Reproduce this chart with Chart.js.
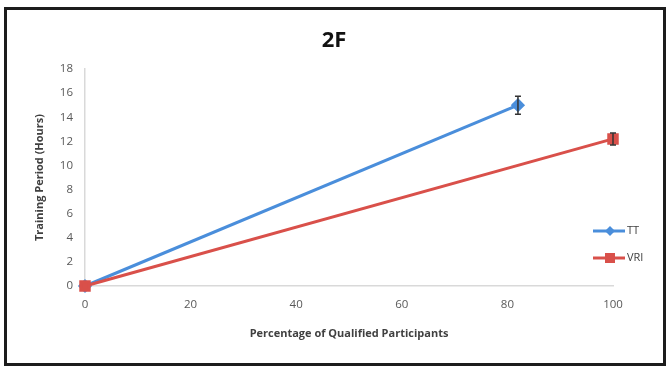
<!DOCTYPE html>
<html>
<head>
<meta charset="utf-8">
<script src="https://cdn.jsdelivr.net/npm/chart.js@4/dist/chart.umd.min.js"></script>
<style>
    body { margin: 0; background: #fff; }
    #frame {
        position: absolute; left: 4px; top: 7px;
        width: 662px; height: 359px;
        box-sizing: border-box;
        border: 3px solid #1c1c1c;
    }
    #chart { position: absolute; left: 0; top: 0; }
</style>
</head>
<body>
<div id="frame"></div>
<canvas id="chart" width="668" height="369"></canvas>
<script>
// Data
const seriesNames = ["TT", "VRI"];
const ttX = [0, 82];
const ttY = [0, 15.0];
const ttErr = [0, 0.75];
const vrX = [0, 100];
const vrY = [0, 12.2];
const vrErr = [0, 0.5];
const xTicks = [0, 20, 40, 60, 80, 100];
const yTicks = [0, 2, 4, 6, 8, 10, 12, 14, 16, 18];

const blue = "#4a8edb";
const red = "#d9504a";

const toPoints = (xs, ys) => xs.map((x, i) => ({ x: x, y: ys[i] }));

// error bars, drawn through the scales
const errorBars = {
    id: "errorBars",
    afterDatasetsDraw(chart) {
        const ctx = chart.ctx;
        const yScale = chart.scales.y;
        ctx.save();
        ctx.strokeStyle = "#333";
        ctx.lineWidth = 1.5;
        chart.data.datasets.forEach((ds, di) => {
            const meta = chart.getDatasetMeta(di);
            ds.errors.forEach((e, i) => {
                if (!e) return;
                const px = meta.data[i].x;
                const v = ds.data[i].y;
                const top = yScale.getPixelForValue(v + e);
                const bot = yScale.getPixelForValue(v - e);
                ctx.beginPath();
                ctx.moveTo(px, top); ctx.lineTo(px, bot);
                ctx.moveTo(px - 3, top); ctx.lineTo(px + 3, top);
                ctx.moveTo(px - 3, bot); ctx.lineTo(px + 3, bot);
                ctx.stroke();
            });
        });
        ctx.restore();
    }
};

// legend drawn in the lower right, over the plot like the original
const sideLegend = {
    id: "sideLegend",
    afterDraw(chart) {
        const ctx = chart.ctx;
        ctx.save();
        chart.data.datasets.forEach((ds, i) => {
            const y = 231 + i * 27;
            ctx.strokeStyle = ds.borderColor;
            ctx.lineWidth = 3;
            ctx.beginPath();
            ctx.moveTo(593, y); ctx.lineTo(625, y);
            ctx.stroke();
            ctx.fillStyle = ds.borderColor;
            ctx.beginPath();
            if (ds.pointStyle === "rectRot") {
                ctx.moveTo(610, y - 5); ctx.lineTo(615, y);
                ctx.lineTo(610, y + 5); ctx.lineTo(605, y);
            } else {
                ctx.rect(605, y - 5, 10, 10);
            }
            ctx.fill();
            ctx.fillStyle = "#404040";
            ctx.font = "11px 'Open Sans'";
            ctx.textBaseline = "middle";
            ctx.fillText(ds.label, 627, y);
        });
        ctx.restore();
    }
};

const ctx = document.getElementById("chart").getContext("2d");
new Chart(ctx, {
    type: "scatter",
    data: {
        datasets: [
            {
                label: seriesNames[0],
                data: toPoints(ttX, ttY),
                errors: ttErr,
                showLine: true,
                borderColor: blue,
                backgroundColor: blue,
                borderWidth: 3,
                pointStyle: "rectRot",
                pointRadius: 5,
                order: 1,
            },
            {
                label: seriesNames[1],
                data: toPoints(vrX, vrY),
                errors: vrErr,
                showLine: true,
                borderColor: red,
                backgroundColor: red,
                borderWidth: 3,
                pointStyle: "rect",
                pointRadius: 6,
                order: 0,
            },
        ],
    },
    options: {
        responsive: false,
        animation: false,
        clip: false,
        layout: { padding: { left: 0, right: 0, top: 0, bottom: 25 } },
        plugins: {
            legend: { display: false },
            tooltip: { enabled: false },
            title: {
                display: true,
                text: "2F",
                color: "#111",
                font: { family: "'Open Sans'", size: 22, weight: "bold" },
                padding: { top: 28, bottom: 14.6 },
            },
        },
        scales: {
            x: {
                type: "linear",
                min: 0,
                max: 100,
                afterFit: s => { s.height = 58; },
                afterBuildTicks: s => { s.ticks = xTicks.map(v => ({ value: v })); },
                grid: { display: false, drawTicks: false },
                border: { display: true, color: "#d9d9d9", width: 1.5 },
                ticks: { color: "#595959", padding: 12, font: { family: "'Open Sans'", size: 11.5 } },
                title: {
                    display: true,
                    text: "Percentage of Qualified Participants",
                    color: "#404040",
                    font: { family: "'Open Sans'", size: 11, weight: "bold" },
                    padding: { top: 0, bottom: 4 },
                },
            },
            y: {
                min: 0,
                max: 18,
                afterFit: s => { s.width = 85; },
                afterBuildTicks: s => { s.ticks = yTicks.map(v => ({ value: v })); },
                grid: { display: false, drawTicks: false },
                border: { display: true, color: "#d9d9d9", width: 1.5 },
                ticks: { color: "#595959", padding: 12, font: { family: "'Open Sans'", size: 11.5 } },
                title: {
                    display: true,
                    text: "Training Period (Hours)",
                    color: "#404040",
                    font: { family: "'Open Sans'", size: 11, weight: "bold" },
                    padding: { top: 33, bottom: 0 },
                },
            },
            // empty right-hand axis that only reserves room for the legend
            yRight: {
                position: "right",
                afterFit: s => { s.width = 55; },
                grid: { display: false, drawTicks: false },
                border: { display: false },
                ticks: { display: false },
            },
        },
    },
    plugins: [errorBars, sideLegend],
});
</script>
</body>
</html>
